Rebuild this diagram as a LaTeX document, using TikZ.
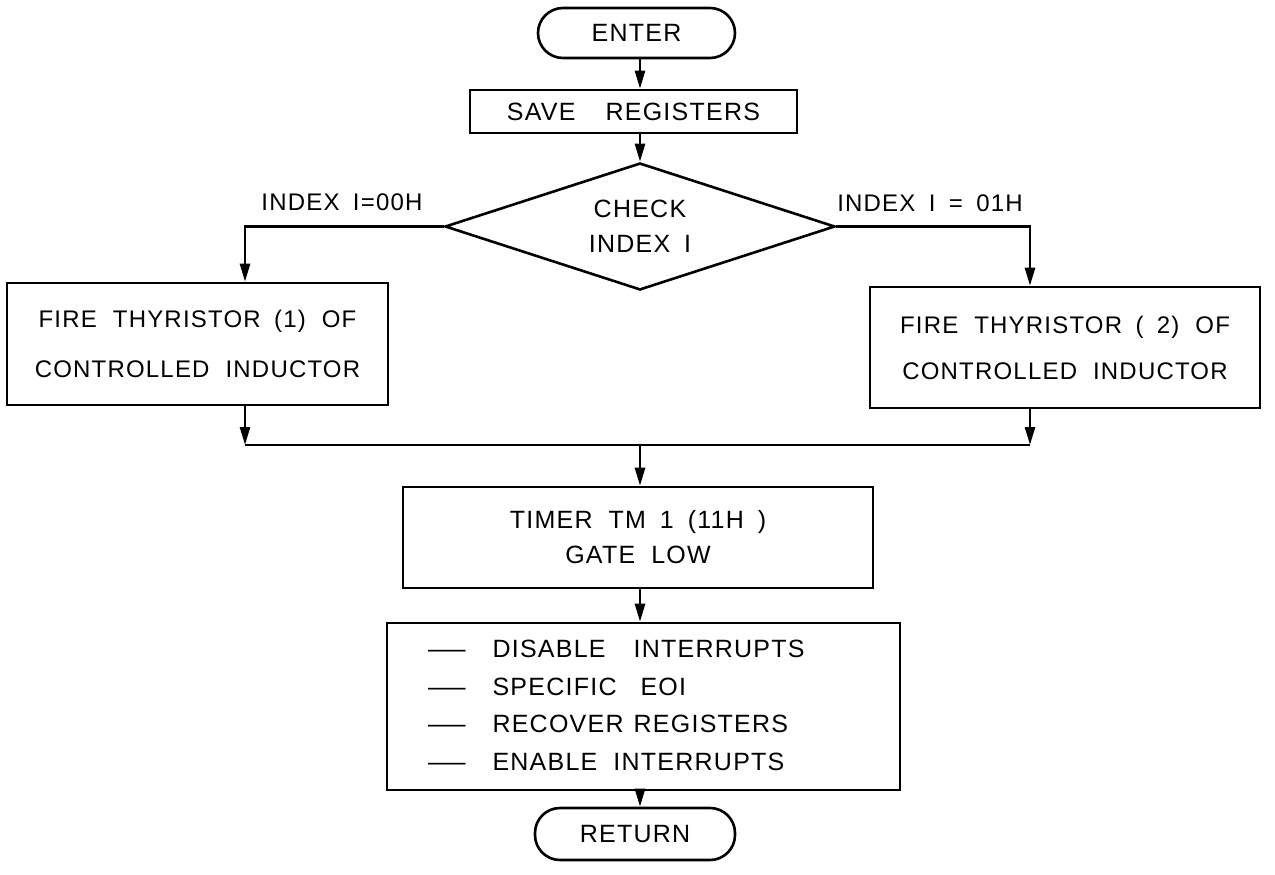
\documentclass[tikz,border=0pt]{standalone}
\usepackage{fontspec}
\setmainfont{Liberation Sans}[LetterSpace=5,WordSpace=1.7]
\usetikzlibrary{shapes.geometric,arrows.meta}
\newcommand\wgap{\hspace{16pt}}

\begin{document}
\begin{tikzpicture}[
  x=1pt, y={(0pt,-1pt)},
  lw/.style={line width=2.6pt},
  flow/.style={draw, lw, inner sep=0pt, align=center,
    font=\fontsize{25}{35}\selectfont},
  stepbox/.style={flow, rectangle},
  term/.style={flow, rectangle, rounded corners=25pt},
  decide/.style={flow, diamond, aspect=3.07},
  lbl/.style={font=\fontsize{24}{35}\selectfont, inner sep=0pt},
  arr/.style={lw, -{Triangle[length=18pt,width=10pt]}},
]
\useasboundingbox (0,0) rectangle (1275,875);

% main vertical axis and the two branch columns
\coordinate (axis) at (640,0);
\coordinate (lx) at (245,0);
\coordinate (rx) at (1030,0);

% nodes
\node[term, minimum width=197, minimum height=50] (enter) at (636.5,33) {ENTER};
\node[stepbox, minimum width=327, minimum height=43] (save) at (633.5,111.5) {SAVE\hspace{30pt}REGISTERS};
\node[decide, minimum width=390, minimum height=127] (check) at (640,226.5) {CHECK\\INDEX I};
\node[stepbox, minimum width=381, minimum height=122,
      font=\fontsize{24}{50}\selectfont] (fire1) at (197.5,344)
      {FIRE\wgap THYRISTOR (1)\wgap OF\\CONTROLLED\wgap INDUCTOR};
\node[stepbox, minimum width=390, minimum height=121,
      font=\fontsize{24}{46}\selectfont] (fire2) at (1065,347.5)
      {FIRE\wgap THYRISTOR ( 2)\wgap OF\\CONTROLLED\wgap INDUCTOR};
\node[stepbox, minimum width=470, minimum height=101] (timer) at (638,537.5)
      {TIMER\wgap TM 1 (11H )\\GATE\wgap LOW};
\node[stepbox, minimum height=167, text width=431, inner xsep=41pt,
      font=\fontsize{25}{37.5}\selectfont, align=left] (exit) at (643.5,706.5)
      {\begin{tabular}{@{}l@{\hspace{27pt}}l@{}}
       \scalebox{1.5}[1]{—} & DISABLE\hspace{28pt}INTERRUPTS\\
       \scalebox{1.5}[1]{—} & SPECIFIC\hspace{24pt}EOI\\
       \scalebox{1.5}[1]{—} & RECOVER\hspace{10pt}REGISTERS\\
       \scalebox{1.5}[1]{—} & ENABLE\wgap INTERRUPTS
       \end{tabular}};
\node[term, minimum width=200, minimum height=52] (return) at (635,834) {RETURN};

% branch labels
\node[lbl] (lab0) at (342,202) {INDEX I=00H};
\node[lbl] (lab1) at (930,203) {INDEX I = 01H};

% merge points of the two branches
\coordinate (mergeL) at (245,445);
\coordinate (mergeR) at (1030,445);

% connectors
\draw[arr] (enter.south -| axis) -- (save.north -| axis);
\draw[arr] (save.south -| axis) -- (check.north);
\draw[arr] (check.west) -- (check.west -| lx) -- (fire1.north -| lx);
\draw[arr] (check.east) -- (check.east -| rx) -- (fire2.north -| rx);
\draw[arr] (fire1.south -| lx) -- (mergeL);
\draw[arr] (fire2.south -| rx) -- (mergeR);
\draw[lw] (mergeL) -- (mergeR);
\draw[arr] (mergeL -| axis) -- (timer.north -| axis);
\draw[arr] (timer.south -| axis) -- (exit.north -| axis);
\draw[arr] (exit.south -| axis) -- (return.north -| axis);
\end{tikzpicture}
\end{document}
